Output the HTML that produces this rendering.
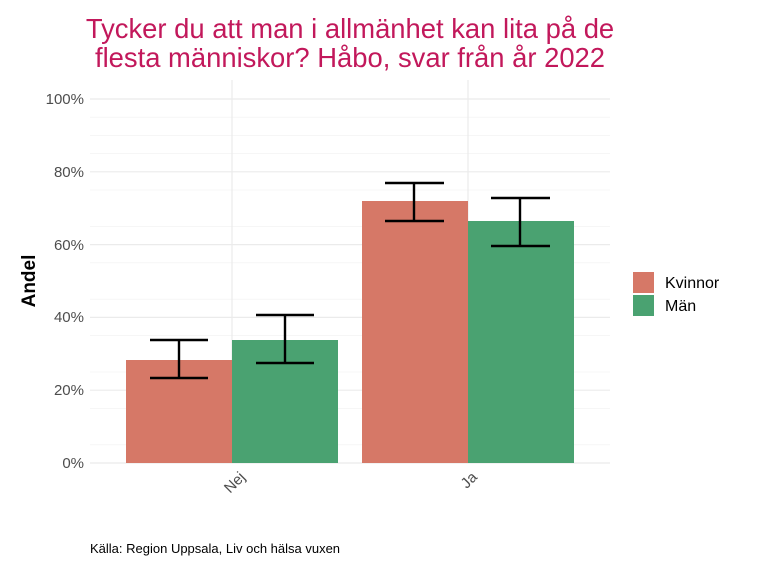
<!DOCTYPE html>
<html><head><meta charset="utf-8"><style>body{margin:0;background:#fff}svg{display:block}</style></head><body>
<svg width="768" height="576" xmlns="http://www.w3.org/2000/svg" font-family="Liberation Sans, sans-serif">
<rect width="768" height="576" fill="#fff"/>
<text x="350" y="38" text-anchor="middle" font-size="27.4" fill="#c2185b">Tycker du att man i allmänhet kan lita på de</text>
<text x="350" y="67" text-anchor="middle" font-size="27.4" fill="#c2185b">flesta människor? Håbo, svar från år 2022</text>
<g stroke="#f0f0f0" stroke-width="0.6">
<line x1="90" x2="610" y1="444.8" y2="444.8"/><line x1="90" x2="610" y1="372" y2="372"/><line x1="90" x2="610" y1="299.2" y2="299.2"/><line x1="90" x2="610" y1="226.4" y2="226.4"/><line x1="90" x2="610" y1="153.6" y2="153.6"/><line x1="90" x2="610" y1="117.2" y2="117.2"/><line x1="90" x2="610" y1="408.4" y2="408.4"/><line x1="90" x2="610" y1="335.6" y2="335.6"/><line x1="90" x2="610" y1="262.8" y2="262.8"/><line x1="90" x2="610" y1="190" y2="190"/><line x1="90" x2="610" y1="135.4" y2="135.4"/>
</g>
<g stroke="#ebebeb" stroke-width="1.2">
<line x1="90" x2="610" y1="463" y2="463"/><line x1="90" x2="610" y1="390.2" y2="390.2"/><line x1="90" x2="610" y1="317.4" y2="317.4"/><line x1="90" x2="610" y1="244.6" y2="244.6"/><line x1="90" x2="610" y1="171.8" y2="171.8"/><line x1="90" x2="610" y1="99" y2="99"/>
<line x1="232" x2="232" y1="80" y2="463"/><line x1="468" x2="468" y1="80" y2="463"/>
</g>
<g font-size="15" fill="#4d4d4d" text-anchor="end">
<text x="84" y="468">0%</text><text x="84" y="395">20%</text><text x="84" y="322">40%</text><text x="84" y="250">60%</text><text x="84" y="177">80%</text><text x="84" y="104">100%</text>
</g>
<rect x="126" y="360" width="106" height="103" fill="#d67867"/>
<rect x="232" y="340" width="106" height="123" fill="#4aa271"/>
<rect x="362" y="201" width="106" height="262" fill="#d67867"/>
<rect x="468" y="221" width="106" height="242" fill="#4aa271"/>
<g stroke="#000" stroke-width="2.4" fill="none">
<path d="M150 340H208M179 340V378M150 378H208"/>
<path d="M256 315H314M285 315V363M256 363H314"/>
<path d="M385 183H444M414 183V221M385 221H444"/>
<path d="M491 198H550M520 198V246M491 246H550"/>
</g>
<g font-size="15" fill="#4d4d4d" text-anchor="end">
<text transform="translate(246,478) rotate(-45)">Nej</text>
<text transform="translate(478,478) rotate(-45)">Ja</text>
</g>
<text transform="translate(35,281) rotate(-90)" text-anchor="middle" font-size="19" font-weight="bold">Andel</text>
<rect x="633" y="272" width="21" height="21" fill="#d67867"/>
<rect x="633" y="295" width="21" height="21" fill="#4aa271"/>
<text x="665" y="288" font-size="16">Kvinnor</text>
<text x="665" y="311" font-size="16">Män</text>
<text x="90" y="553" font-size="13">Källa: Region Uppsala, Liv och hälsa vuxen</text>
</svg>
</body></html>
